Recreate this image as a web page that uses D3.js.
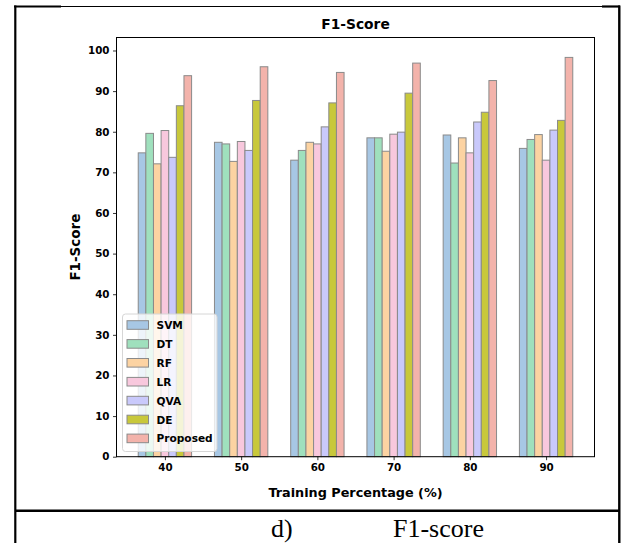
<!DOCTYPE html>
<html><head><meta charset="utf-8">
<script src="https://cdn.jsdelivr.net/npm/d3@7"></script>
<style>body{margin:0;background:#fff}svg{display:block}</style>
</head><body>
<script>
const categories = ["40","50","60","70","80","90"];
const seriesNames = ["SVM","DT","RF","LR","QVA","DE","Proposed"];
const svmVals = [74.8,77.4,73.0,78.5,79.2,75.9];
const dtVals = [79.6,77.0,75.4,78.5,72.3,78.1];
const rfVals = [72.1,72.7,77.4,75.2,78.5,79.3];
const lrVals = [80.3,77.6,77.0,79.4,74.8,73.0];
const qvaVals = [73.7,75.4,81.2,79.9,82.4,80.4];
const deVals = [86.4,87.7,87.1,89.5,84.8,82.8];
const proposedVals = [93.8,96.0,94.6,96.9,92.6,98.3];
const yTicks = [0,10,20,30,40,50,60,70,80,90,100];
const series = [svmVals,dtVals,rfVals,lrVals,qvaVals,deVals,proposedVals];
const colors = ["#a7c7e4","#9fe0bd","#fcd3a2","#f8c8dd","#c9c9fb","#c8c83b","#f3b3ab"];

const W=626,H=543;
const svg=d3.select("body").append("svg").attr("width",W).attr("height",H);
const font="DejaVu Sans";

// table frame
const frame=svg.append("g").attr("stroke","#000").attr("fill","none");
frame.append("line").attr("x1",15).attr("x2",620).attr("y1",6.5).attr("y2",6.5).attr("stroke-width",1.2);
frame.append("line").attr("x1",14).attr("x2",61).attr("y1",6.5).attr("y2",6.5).attr("stroke-width",2.2);
frame.append("line").attr("x1",602).attr("x2",620).attr("y1",6.5).attr("y2",6.5).attr("stroke-width",2.2);
frame.append("line").attr("x1",15.3).attr("x2",15.3).attr("y1",5.5).attr("y2",543).attr("stroke-width",2.2);
frame.append("line").attr("x1",619.3).attr("x2",619.3).attr("y1",5.5).attr("y2",543).attr("stroke-width",2.4);
frame.append("line").attr("x1",15).attr("x2",620).attr("y1",510.7).attr("y2",510.7).attr("stroke-width",2.4);

// caption
svg.append("text").attr("x",271).attr("y",537).attr("font-family","Liberation Serif").attr("font-size",26).text("d)");
svg.append("text").attr("x",393).attr("y",537).attr("font-family","Liberation Serif").attr("font-size",26).text("F1-score");

const L=116.5,R=594.5,T=37.5,B=456.7;
const x=d3.scaleLinear().domain([-0.635,5.635]).range([L,R]);
const y=d3.scaleLinear().domain([0,103.2]).range([B,T]);
const bw=0.1;

const g=svg.append("g");
series.forEach((vals,j)=>{
  g.selectAll(null).data(vals).enter().append("rect")
    .attr("x",(d,i)=>x(i+(j-3)*bw-bw/2))
    .attr("width",x(bw)-x(0))
    .attr("y",d=>y(d))
    .attr("height",d=>y(0)-y(d))
    .attr("fill",colors[j]).attr("stroke","#8a8a8a").attr("stroke-width",1);
});

// axes
const yAxis=d3.axisLeft(y).tickValues(yTicks).tickSize(3.5).tickPadding(3.5);
const ya=svg.append("g").attr("transform",`translate(${L},0)`).call(yAxis);
const xAxis=d3.axisBottom(x).tickValues(d3.range(6)).tickFormat(i=>categories[i]).tickSize(3.5).tickPadding(3.5);
const xa=svg.append("g").attr("transform",`translate(0,${B})`).call(xAxis);
[ya,xa].forEach(a=>{a.select(".domain").remove();a.selectAll("text").attr("font-family",font).attr("font-weight","bold").attr("font-size",10.3).attr("fill","#000");a.selectAll("line").attr("stroke","#000").attr("stroke-width",0.8);});
svg.append("rect").attr("x",L).attr("y",T).attr("width",R-L).attr("height",B-T).attr("fill","none").attr("stroke","#000").attr("stroke-width",1);

// labels
svg.append("text").attr("x",(L+R)/2).attr("y",29).attr("text-anchor","middle").attr("font-family",font).attr("font-weight","bold").attr("font-size",13.8).text("F1-Score");
svg.append("text").attr("x",(L+R)/2).attr("y",497).attr("text-anchor","middle").attr("font-family",font).attr("font-weight","bold").attr("font-size",12.8).text("Training Percentage (%)");
svg.append("text").attr("transform",`translate(80,${(T+B)/2}) rotate(-90)`).attr("text-anchor","middle").attr("font-family",font).attr("font-weight","bold").attr("font-size",13.5).text("F1-Score");

// legend
const lg=svg.append("g").attr("transform","translate(122.5,314)");
lg.append("rect").attr("width",94.5).attr("height",137.5).attr("rx",3).attr("fill","#fff").attr("fill-opacity",0.8).attr("stroke","#d6d6d6").attr("stroke-width",1);
seriesNames.forEach((n,j)=>{
  const yy=11+j*18.9;
  lg.append("rect").attr("x",4.5).attr("y",yy-4.3).attr("width",21.5).attr("height",8.6).attr("fill",colors[j]).attr("stroke","#8a8a8a").attr("stroke-width",1);
  lg.append("text").attr("x",34).attr("y",yy+4).attr("font-family",font).attr("font-weight","bold").attr("font-size",10.6).text(n);
});
</script>
</body></html>
